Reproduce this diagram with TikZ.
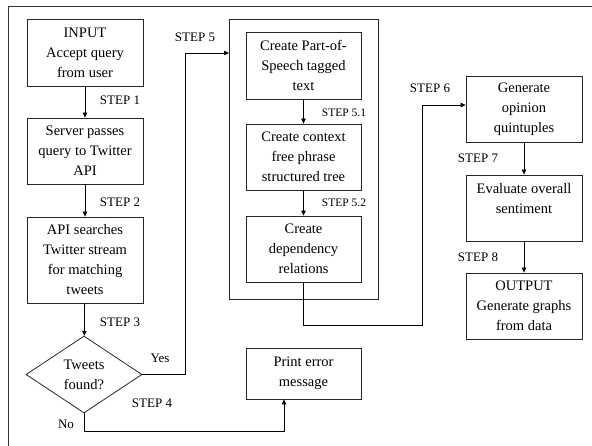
\documentclass[tikz,border=0pt]{standalone}
\usepackage{fontspec}
\setmainfont{Liberation Serif}
\usetikzlibrary{shapes.geometric,arrows.meta}
\begin{document}
\begin{tikzpicture}[x=1pt,y=-1pt,
  box/.style={draw=black!85,line width=0.8pt,rectangle,inner sep=0pt,align=center,
    font=\fontsize{14.5}{20}\selectfont},
  lbl/.style={font=\fontsize{13}{15}\selectfont,inner sep=0pt},
  slbl/.style={font=\fontsize{11.5}{14}\selectfont,inner sep=0pt},
  arr/.style={line width=0.8pt,-{Triangle[length=5pt,width=4.5pt]}},
  ln/.style={line width=0.8pt}]
\useasboundingbox (0,0) rectangle (592,446);
% outer frame (open)
\coordinate (fa) at (8,446);
\coordinate (fb) at (8,6);
\coordinate (fc) at (592,6);
\draw[line width=0.9pt,black!80] (fa) -- (fb) -- (fc);
% left column
\node[box,minimum width=116pt,minimum height=67pt] (in) at (85,52.5) {INPUT\\Accept query\\from user};
\node[box,minimum width=116pt,minimum height=66pt] (srv) at (85,151) {Server passes\\query to Twitter\\API};
\node[box,minimum width=116pt,minimum height=86pt] (api) at (85,260) {API searches\\Twitter stream\\for matching\\tweets};
\node[draw=black!85,line width=0.8pt,diamond,aspect=1.5,inner sep=0pt,minimum width=116pt,minimum height=77pt,
  align=center,font=\fontsize{14.5}{20}\selectfont] (dec) at (84,374.5) {Tweets\\found?};
\node[box,minimum width=115pt,minimum height=51pt] (err) at (303.5,373.5) {Print error\\message};
% step 5 container
\node[box,minimum width=149pt,minimum height=280pt] (big) at (303.5,159) {};
\node[box,minimum width=115pt,minimum height=67pt] (b1) at (303.5,65.5) {Create Part-of-\\Speech tagged\\text};
\node[box,minimum width=115pt,minimum height=66pt] (b2) at (303.5,157) {Create context\\free phrase\\structured tree};
\node[box,minimum width=115pt,minimum height=66pt] (b3) at (303.5,249) {Create\\dependency\\relations};
% right column
\node[box,minimum width=116pt,minimum height=66pt] (b6) at (524,109) {Generate\\opinion\\quintuples};
\node[box,minimum width=116pt,minimum height=66pt] (b7) at (524,208) {Evaluate overall\\sentiment\\~};
\node[box,minimum width=116pt,minimum height=66pt] (b8) at (524,306) {OUTPUT\\Generate graphs\\from data};
% labels
\node[lbl] (s1) at (120,100.5) {STEP 1};
\node[lbl] (s2) at (120,202) {STEP 2};
\node[lbl] (s3) at (120,322) {STEP 3};
\node[lbl] (s4) at (152,403) {STEP 4};
\node[lbl] (yes) at (160,358) {Yes};
\node[lbl] (no) at (66,424) {No};
\node[lbl] (s5) at (195,37.5) {STEP 5};
\node[slbl] (s51) at (344,113) {STEP 5.1};
\node[slbl] (s52) at (344,203) {STEP 5.2};
\node[lbl] (s6) at (430,88) {STEP 6};
\node[lbl] (s7) at (478,158) {STEP 7};
\node[lbl] (s8) at (478,257) {STEP 8};
% connectors
\draw[arr] (in) -- (srv);
\draw[arr] (srv) -- (api);
\draw[arr] (api) -- (dec);
\coordinate (yturn) at (185,53);
\coordinate (y5) at (229,53);
\draw[arr] (dec.east) -| (yturn) -- (y5);
\draw[arr] (b1) -- (b2);
\draw[arr] (b2) -- (b3);
\coordinate (c1) at (422,325);
\coordinate (c2) at (422,105);
\draw[arr] (b3.south) |- (c1) -- (c2) -- (c2 -| b6.west);
\draw[arr] (b6) -- (b7);
\draw[arr] (b7) -- (b8);
\coordinate (n1) at (284,431);
\draw[arr] (dec.south) |- (n1) -- (n1 |- err.south);
\end{tikzpicture}
\end{document}
